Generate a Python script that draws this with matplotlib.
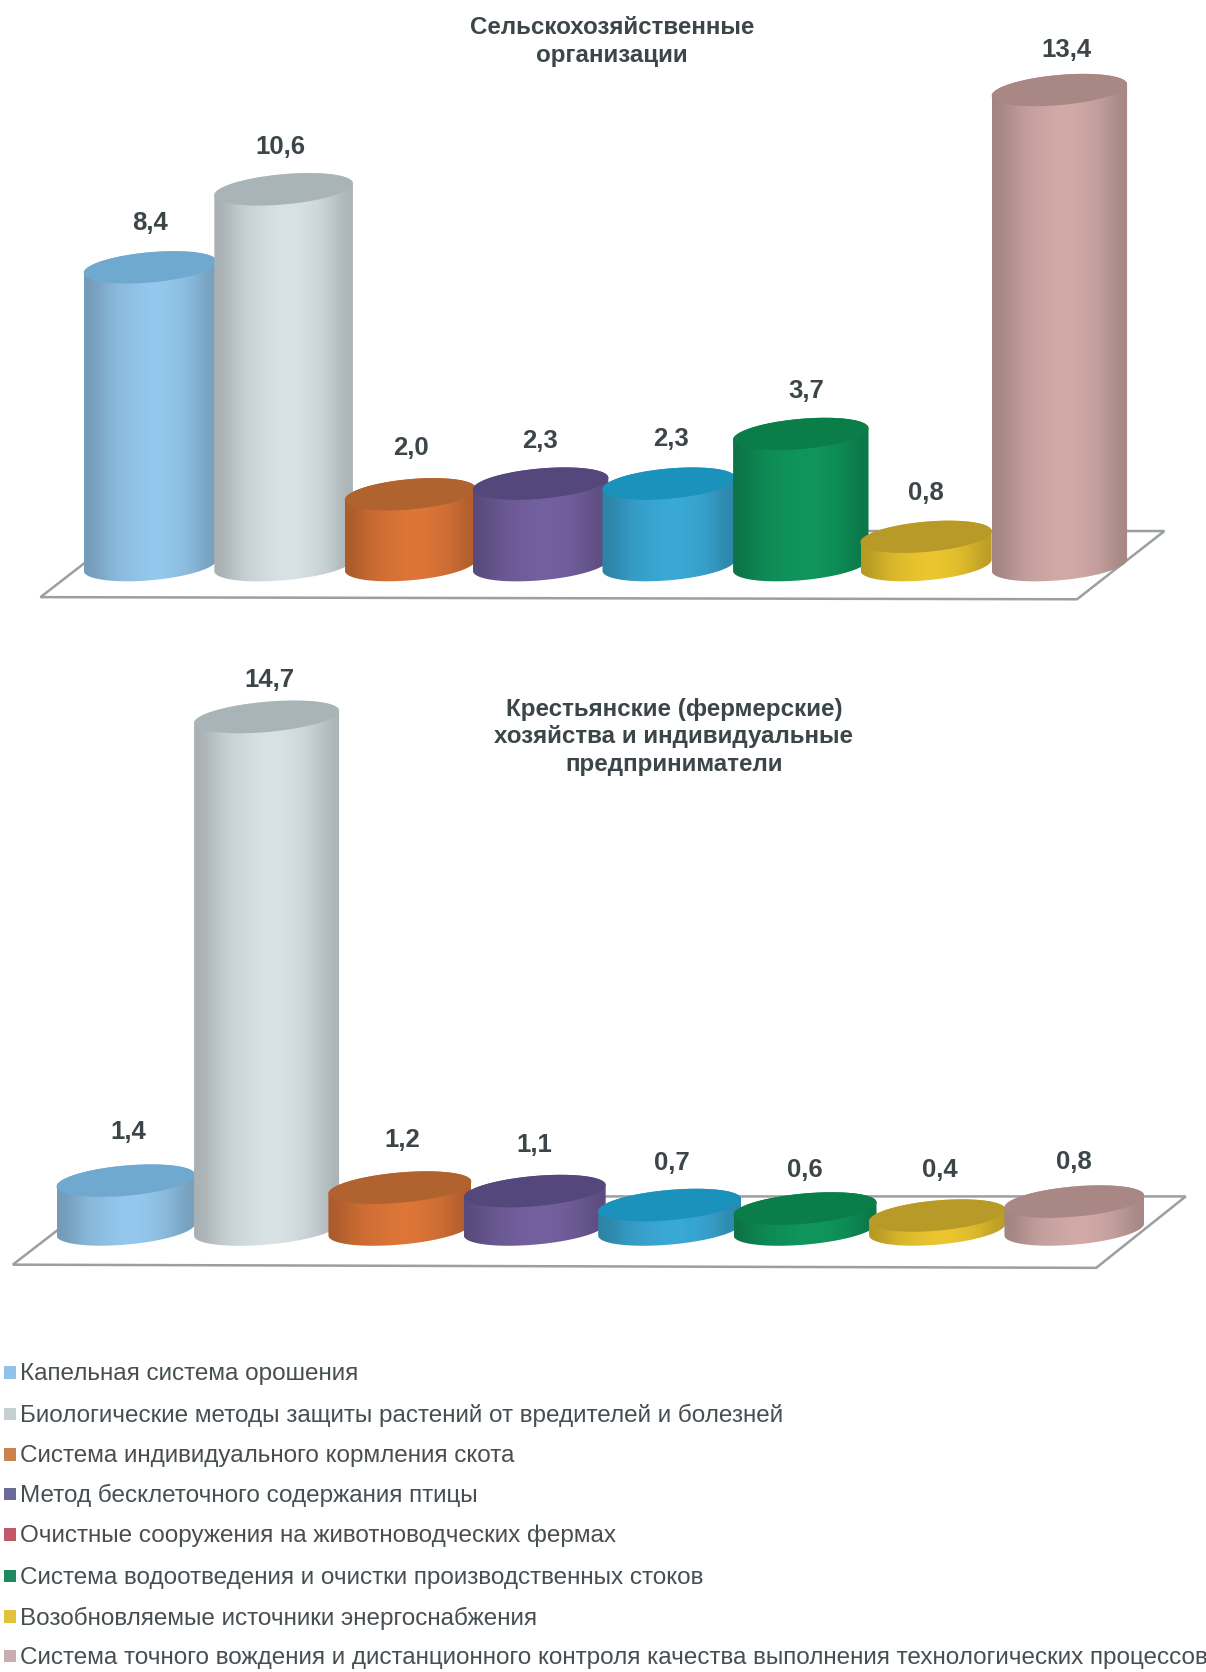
#!/usr/bin/env python
import numpy as np
import matplotlib
matplotlib.use('Agg')
import matplotlib.pyplot as plt
from matplotlib.path import Path
from matplotlib.patches import PathPatch, Rectangle
from matplotlib.transforms import Affine2D

plt.rcParams['font.family'] = ['Liberation Sans', 'DejaVu Sans']

# data
categories = ['Капельная система орошения',
              'Биологические методы защиты растений от вредителей и болезней',
              'Система индивидуального кормления скота',
              'Метод бесклеточного содержания птицы',
              'Очистные сооружения на животноводческих фермах',
              'Система водоотведения и очистки производственных стоков',
              'Возобновляемые источники энергоснабжения',
              'Система точного вождения и дистанционного контроля качества выполнения технологических процессов']
top_values = [8.4, 10.6, 2.0, 2.3, 2.3, 3.7, 0.8, 13.4]
bottom_values = [1.4, 14.7, 1.2, 1.1, 0.7, 0.6, 0.4, 0.8]
top_title = ['Сельскохозяйственные', 'организации']
bottom_title = ['Крестьянские (фермерские)', 'хозяйства и индивидуальные', 'предприниматели']

# colours
side_colors = ['#90c2e6', '#d2dcdf', '#d67236', '#705d9a', '#38a4cf', '#0f9159', '#e4c02e', '#cba5a3']
cap_colors = ['#70a9d0', '#a9b4b9', '#b0622f', '#54477c', '#1b92bb', '#0b7d48', '#b89a28', '#a98784']
legend_colors = ['#8fc4e8', '#c3d0cf', '#c8834f', '#6a6a9a', '#c05a6a', '#1f8a62', '#e2c23c', '#c8aeb0']
shade = [0.80, 0.93, 0.98, 1.02, 1.04, 1.0, 0.95, 0.82]
text_color = '#3c4649'

fig = plt.figure(figsize=(12.06, 16.72), dpi=100, facecolor='white')
# layout is measured on a 1131x1568 copy of the page
px = Affine2D().scale(1 / 1131, -1 / 1568).translate(0, 1) + fig.transFigure


def cylinders(y_top, y_bot, x0, dx, y0, k, half_w, values, nudge, label_dx, label_dy, floor):
    ax = fig.add_axes([0, 1 - y_bot / 1568, 1, (y_bot - y_top) / 1568])
    ax.axis('off')
    slope = 0.085 * dx / k
    b = 14.2 / k

    fx, fy = zip(*floor)
    ax.plot(fx, fy, color='#9a9fa2', lw=1.8, transform=px, zorder=1, solid_joinstyle='miter')

    t = np.linspace(0, 2 * np.pi, 121)
    tt = np.linspace(0, np.pi, 60)
    for i, v in enumerate(values):
        z = 2 + i
        c = i + nudge[i] / dx
        hw = half_w[i] / dx
        rgb = np.array(matplotlib.colors.to_rgb(side_colors[i]))
        grad = np.array([np.clip(rgb * s, 0, 1) for s in shade])[None, :, :]
        # side: upper half of cap, then lower half of base (bars start at 0)
        xs = np.r_[c + hw * np.cos(tt), c - hw * np.cos(tt)]
        ys = np.r_[v + b * np.sin(tt) + slope * hw * np.cos(tt),
                   -b * np.sin(tt) - slope * hw * np.cos(tt)]
        body = Path(np.c_[xs, ys])
        im = ax.imshow(grad, extent=[c - hw, c + hw, -2, v + 2],
                       aspect='auto', zorder=z, interpolation='bicubic')
        im.set_clip_path(body, transform=ax.transData)

        cap = Path(np.c_[c + hw * np.cos(t), v + b * np.sin(t) + slope * hw * np.cos(t)])
        ax.add_patch(PathPatch(cap, fc=cap_colors[i], ec='none', zorder=z + 0.5))

        ax.text(i + label_dx[i] / dx, v + label_dy[i] / k, f'{v:.1f}'.replace('.', ','),
                ha='center', va='center', fontsize=18.5, fontweight='bold', color=text_color, zorder=20)
    ax.set_xlim(-x0 / dx, (1131 - x0) / dx)
    ax.set_ylim((y0 - y_bot) / k, (y0 - y_top) / k)
    return ax


cylinders(0, 600, 141, 122, 530, 33.25,
          [62.5, 65, 61.5, 63.5, 62.5, 63.5, 61.5, 63.5], top_values,
          [0, 3, 0, 0, -1.5, 0, -4.5, -1.5],
          [0, 0, 0, -1, 0, 5, -5, 5],
          [42, 40, 43, 40, 42, 40, 41, 38],
          [(118, 498), (1092, 498), (1010, 562), (38, 560), (118, 498)])
cylinders(600, 1210, 118, 127, 1153, 32.7,
          [65, 68, 67, 66.5, 67, 67, 64, 65.5], bottom_values,
          [0, 5, 3, 2.5, 2, 2, -1, 0.5],
          [2, 8, 5, 2, 4, 2, 1, 0],
          [46, 35, 45, 43, 39, 36, 43, 37],
          [(95, 1122), (1112, 1122), (1028, 1189), (12, 1186), (95, 1122)])

for line, y in zip(top_title, [26, 52]):
    fig.text(574, y, line, transform=px, ha='center', va='center', fontsize=17.4,
             fontweight='bold', color=text_color)
for line, y in zip(bottom_title, [665, 691, 717]):
    fig.text(632, y, line, transform=px, ha='center', va='center', fontsize=17.4,
             fontweight='bold', color=text_color)

legend_y = [1287, 1326, 1364, 1401, 1439, 1478, 1516, 1553]
for name, col, y in zip(categories, legend_colors, legend_y):
    fig.add_artist(Rectangle((4, y - 6), 11, 12, transform=px, fc=col, ec='none'))
    fig.text(19, y + 1.5, name, transform=px, ha='left', va='center', fontsize=17.43, color='#474e52')

fig.savefig('out.png', dpi=100)
